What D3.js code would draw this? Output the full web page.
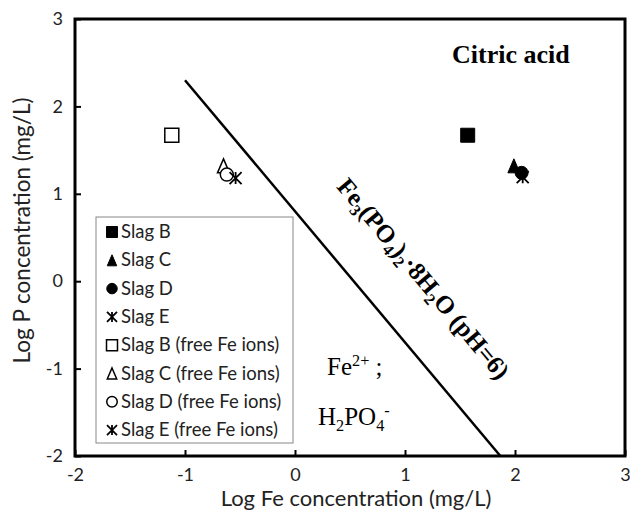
<!DOCTYPE html>
<html>
<head>
<meta charset="utf-8">
<script src="https://cdn.jsdelivr.net/npm/d3@7"></script>
<style>
  body { margin: 0; background: #fff; }
  svg { display: block; }
</style>
</head>
<body>
<div id="chart"></div>
<script>
// data
const xTicks = [-2, -1, 0, 1, 2, 3];
const yTicks = [-2, -1, 0, 1, 2, 3];
const seriesNames = ["Slag B", "Slag C", "Slag D", "Slag E",
  "Slag B (free Fe ions)", "Slag C (free Fe ions)", "Slag D (free Fe ions)", "Slag E (free Fe ions)"];
const seriesShapes = ["square", "triangle", "circle", "star", "square", "triangle", "circle", "star"];
const seriesFilled = [true, true, true, true, false, false, false, false];
const logFe = [1.57, 1.99, 2.06, 2.07, -1.12, -0.65, -0.62, -0.54];
const logP = [1.67, 1.32, 1.24, 1.19, 1.67, 1.32, 1.22, 1.18];
const boundaryFe = [-1, 1.867];
const boundaryP = [2.3, -2];

const width = 630, height = 515;
const margin = {left: 75, right: 5, top: 19, bottom: 59};
const sans = "Lato, 'Open Sans', sans-serif";
const serif = "'Liberation Serif', 'Times New Roman', serif";

const svg = d3.select("#chart").append("svg")
  .attr("width", width)
  .attr("height", height);

svg.append("rect").attr("width", width).attr("height", height).attr("fill", "#fff");

const x = d3.scaleLinear().domain([-2, 3]).range([margin.left, width - margin.right]);
const y = d3.scaleLinear().domain([-2, 3]).range([height - margin.bottom, margin.top]);

// axes with inward ticks
const xAxis = svg.append("g")
  .attr("transform", "translate(0," + y(-2) + ")")
  .call(d3.axisBottom(x).tickValues(xTicks).tickSizeInner(-6).tickSizeOuter(0).tickPadding(12));
const yAxis = svg.append("g")
  .attr("transform", "translate(" + x(-2) + ",0)")
  .call(d3.axisLeft(y).tickValues(yTicks).tickSizeInner(-6).tickSizeOuter(0).tickPadding(12));

[xAxis, yAxis].forEach(function(ax){
  ax.select(".domain").remove();
  ax.selectAll(".tick line").attr("stroke", "#000").attr("stroke-width", 2);
  ax.selectAll(".tick text")
    .attr("fill", "#222")
    .style("font-family", sans)
    .style("font-size", "18px")
    .text(function(d){ return String(d); });
});

// plot frame
svg.append("rect")
  .attr("x", x(-2)).attr("y", y(3))
  .attr("width", x(3) - x(-2)).attr("height", y(-2) - y(3))
  .attr("fill", "none").attr("stroke", "#000").attr("stroke-width", 3);

// axis titles
svg.append("text")
  .attr("x", (x(-2) + x(3)) / 2 + 6).attr("y", 506)
  .attr("text-anchor", "middle")
  .style("font-family", sans).style("font-size", "22px").attr("fill", "#222")
  .text("Log Fe concentration (mg/L)");

svg.append("text")
  .attr("transform", "translate(30," + ((y(-2) + y(3)) / 2 - 7) + ") rotate(-90)")
  .attr("text-anchor", "middle")
  .style("font-family", sans).style("font-size", "22.5px").attr("fill", "#222")
  .text("Log P concentration (mg/L)");

// solubility boundary line
svg.append("path")
  .datum(d3.zip(boundaryFe, boundaryP))
  .attr("d", d3.line().x(function(d){ return x(d[0]); }).y(function(d){ return y(d[1]); }))
  .attr("fill", "none").attr("stroke", "#000").attr("stroke-width", 2.5);

function markerPath(shape, s){
  if(shape === "square"){
    return d3.symbol(d3.symbolSquare, s * s)();
  }
  if(shape === "circle"){
    return d3.symbol(d3.symbolCircle, Math.PI * (s / 2) * (s / 2))();
  }
  if(shape === "triangle"){
    let w = s * 0.86, h = s;
    return "M0," + (-h / 2) + "L" + (w / 2) + "," + (h / 2) + "L" + (-w / 2) + "," + (h / 2) + "Z";
  }
  let r = s / 2;
  return "M" + (-r) + "," + (-r) + "L" + r + "," + r +
    "M" + (-r) + "," + r + "L" + r + "," + (-r) +
    "M0," + (-r) + "L0," + r;
}

function drawMarker(g, i, s){
  let shape = seriesShapes[i];
  let filled = seriesFilled[i];
  let p = g.append("path").attr("d", markerPath(shape, s));
  if(shape === "star"){
    p.attr("fill", "none").attr("stroke", "#000").attr("stroke-width", 1.8);
  }else if(filled){
    p.attr("fill", "#000").attr("stroke", "#000").attr("stroke-width", 1);
  }else{
    p.attr("fill", "#fff").attr("stroke", "#000").attr("stroke-width", 1.5);
  }
  return p;
}

// data points
const markerSizes = {square: 14, triangle: 14, circle: 13, star: 12};
seriesNames.forEach(function(name, i){
  let g = svg.append("g").attr("transform", "translate(" + x(logFe[i]) + "," + y(logP[i]) + ")");
  drawMarker(g, i, markerSizes[seriesShapes[i]]);
});

// legend
const legend = svg.append("g");
legend.append("rect")
  .attr("x", 96).attr("y", 217).attr("width", 197).attr("height", 226)
  .attr("fill", "#fff").attr("stroke", "#888").attr("stroke-width", 1);
const legendSizes = {square: 11, triangle: 11, circle: 10.5, star: 10};
seriesNames.forEach(function(name, i){
  let row = legend.append("g").attr("transform", "translate(112," + (232 + i * 28.3) + ")");
  drawMarker(row, i, legendSizes[seriesShapes[i]]);
  row.append("text")
    .attr("x", 9).attr("y", 6)
    .style("font-family", sans).style("font-size", "18.5px").attr("fill", "#222")
    .text(name);
});

// annotations
svg.append("text")
  .attr("x", 452).attr("y", 63)
  .style("font-family", serif).style("font-size", "26px").style("font-weight", "bold")
  .text("Citric acid");

// chemical formula with sub/superscripts via dy shifts
function chem(parent, parts, size){
  let shift = 0;
  parts.forEach(function(p){
    let target = p[1] === "sub" ? size * 0.22 : p[1] === "sup" ? -size * 0.35 : 0;
    let t = parent.append("tspan").text(p[0]).attr("dy", target - shift);
    shift = target;
    if(p[1]){
      t.style("font-size", (size * 0.65) + "px");
    }
  });
}

const lineLabel = svg.append("text")
  .attr("transform", "translate(417,284) rotate(50.1)")
  .attr("text-anchor", "middle")
  .style("font-family", serif).style("font-size", "25px").style("font-weight", "bold");
chem(lineLabel, [["Fe"], ["3", "sub"], ["(PO"], ["4", "sub"], [")"], ["2", "sub"], ["\u00b78H"], ["2", "sub"], ["O (pH=6)"]], 25);

const ion1 = svg.append("text")
  .attr("x", 327).attr("y", 375)
  .style("font-family", serif).style("font-size", "25px");
chem(ion1, [["Fe"], ["2+", "sup"], [" ;"]], 25);

const ion2 = svg.append("text")
  .attr("x", 318).attr("y", 425)
  .style("font-family", serif).style("font-size", "25px");
chem(ion2, [["H"], ["2", "sub"], ["PO"], ["4", "sub"], ["-", "sup"]], 25);
</script>
</body>
</html>
